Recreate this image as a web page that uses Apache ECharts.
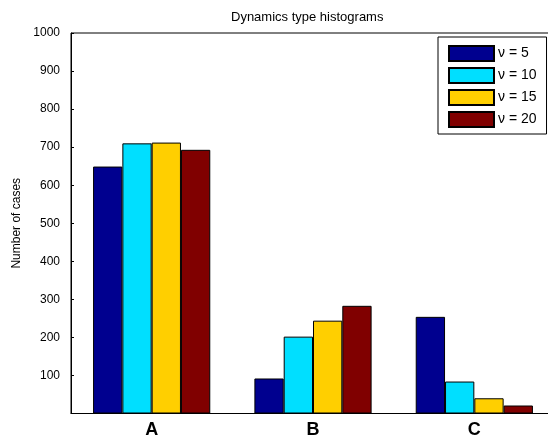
<!DOCTYPE html>
<html>
<head>
<meta charset="utf-8">
<script src="https://cdn.jsdelivr.net/npm/echarts@6/dist/echarts.min.js"></script>
<style>
  html, body { margin: 0; padding: 0; background: #fff; overflow: hidden; }
  /* the axes box runs slightly past the right edge of the window */
  #chart { width: 555px; height: 441px; }
</style>
</head>
<body>
<div id="chart"></div>
<script>
// Dynamics types and number of cases per noise level ν
const categories = ['A', 'B', 'C'];
const nu5  = [649, 92, 254];
const nu10 = [710, 202, 84];
const nu15 = [712, 244, 40];
const nu20 = [693, 283, 21];
const seriesNames = ['ν = 5', 'ν = 10', 'ν = 15', 'ν = 20'];
const seriesColors = ['#00008f', '#00dfff', '#ffcf00', '#800000'];
const yTicks = { min: 0, max: 1000, interval: 100 };

const font = 'Liberation Sans, Arial, Helvetica, sans-serif';
const values = [nu5, nu10, nu15, nu20];

const chart = echarts.init(document.getElementById('chart'), null, { renderer: 'canvas' });

chart.setOption({
  animation: false,
  backgroundColor: '#fff',
  title: {
    text: 'Dynamics type histograms',
    left: 226,
    top: 6,
    textStyle: { fontFamily: font, fontSize: 13, fontWeight: 'normal', color: '#000' }
  },
  legend: {
    orient: 'vertical',
    left: 438,
    top: 37,
    padding: [8, 10, 6, 10],
    icon: 'rect',
    itemWidth: 45,
    itemHeight: 15,
    itemGap: 5,
    borderColor: '#000',
    borderWidth: 1,
    backgroundColor: '#fff',
    textStyle: { fontFamily: font, fontSize: 14, color: '#000', padding: [0, 0, 0, -1] },
    data: seriesNames
  },
  grid: {
    left: 71,
    top: 33,
    right: 0,
    bottom: 27.5,
    show: true,
    borderColor: '#000',
    borderWidth: 1,
    backgroundColor: 'transparent'
  },
  xAxis: {
    type: 'category',
    data: categories,
    axisLine: { lineStyle: { color: '#000', width: 1 } },
    axisTick: { show: false },
    axisLabel: { fontFamily: font, fontSize: 18, fontWeight: 'bold', color: '#000', margin: 8 }
  },
  yAxis: {
    type: 'value',
    min: yTicks.min,
    max: yTicks.max,
    interval: yTicks.interval,
    name: 'Number of cases',
    nameLocation: 'middle',
    nameGap: 45,
    nameTextStyle: { fontFamily: font, fontSize: 12, color: '#000' },
    axisLine: { show: true, lineStyle: { color: '#000', width: 1 } },
    axisTick: { show: true, inside: true, length: 3, lineStyle: { color: '#000' } },
    splitLine: { show: false },
    axisLabel: {
      fontFamily: font, fontSize: 12, color: '#000', margin: 11,
      formatter: v => (v === 0 ? '' : String(v))
    }
  },
  series: values.map((d, i) => ({
    name: seriesNames[i],
    type: 'bar',
    data: d,
    barWidth: 29.3,
    barGap: '0%',
    itemStyle: { color: seriesColors[i], borderColor: '#000', borderWidth: 1 }
  }))
});
</script>
</body>
</html>
